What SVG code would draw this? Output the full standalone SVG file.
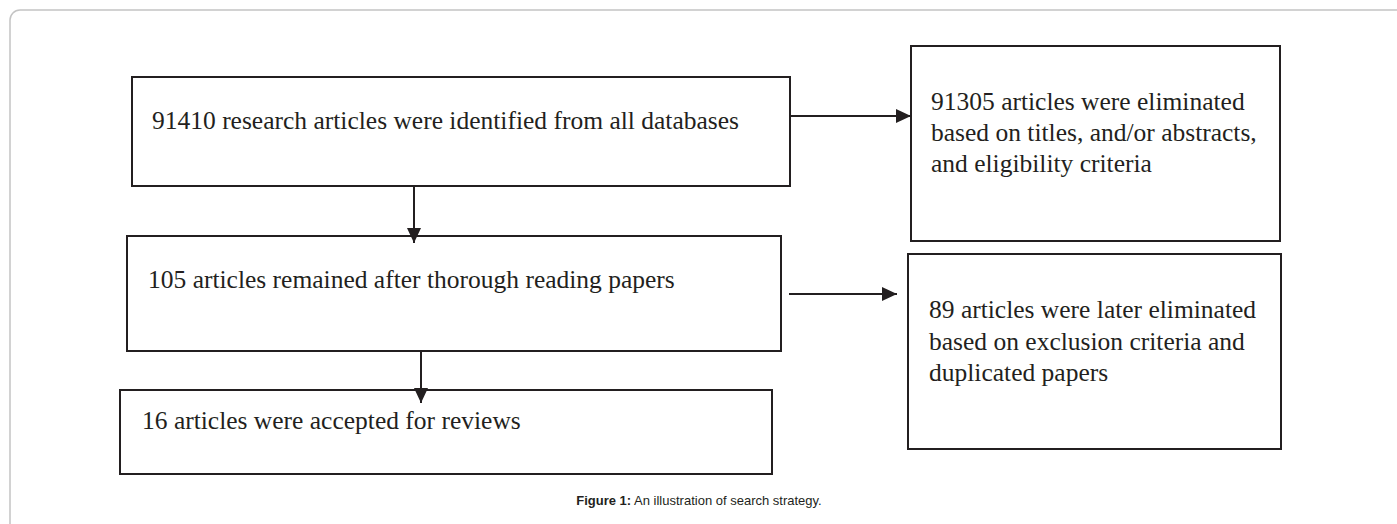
<svg xmlns="http://www.w3.org/2000/svg" width="1397" height="524" viewBox="0 0 1397 524">
<style>
.box{fill:#fff;stroke:#231f20;stroke-width:2}
.t{font-family:"Liberation Serif","Times New Roman",serif;font-size:25.5px;fill:#231f20}
.conn{stroke:#231f20;stroke-width:2;fill:none}
.cap{font-family:"Liberation Sans",Arial,sans-serif;font-size:13px;fill:#231f20}
</style>
<defs>
<marker id="ah" markerUnits="userSpaceOnUse" markerWidth="16" markerHeight="16" viewBox="0 0 16 16" refX="15" refY="8" orient="auto">
<path d="M0,1 L15,8 L0,15 Z" fill="#231f20"/>
</marker>
</defs>
<rect x="10" y="10" width="1410" height="540" rx="10" fill="#fff" stroke="#c4c4c4" stroke-width="1.5"/>
<g id="n1">
<rect class="box" x="132" y="77" width="658" height="109"/>
<text class="t" x="152" y="129">91410 research articles were identified from all databases</text>
</g>
<g id="n2">
<rect class="box" x="911" y="46" width="369" height="195"/>
<text class="t" x="931" y="110">91305 articles were eliminated</text>
<text class="t" x="931" y="141">based on titles, and/or abstracts,</text>
<text class="t" x="931" y="172">and eligibility criteria</text>
</g>
<g id="n3">
<rect class="box" x="127" y="236" width="654" height="115"/>
<text class="t" x="148" y="288">105 articles remained after thorough reading papers</text>
</g>
<g id="n4">
<rect class="box" x="908" y="254" width="373" height="195"/>
<text class="t" x="929" y="318">89 articles were later eliminated</text>
<text class="t" x="929" y="350">based on exclusion criteria and</text>
<text class="t" x="929" y="381">duplicated papers</text>
</g>
<g id="n5">
<rect class="box" x="120" y="390" width="652" height="84"/>
<text class="t" x="142" y="429">16 articles were accepted for reviews</text>
</g>
<g id="connectors">
<line class="conn" x1="790" y1="116" x2="911" y2="116" marker-end="url(#ah)"/>
<line class="conn" x1="414" y1="186" x2="414" y2="243" marker-end="url(#ah)"/>
<line class="conn" x1="789" y1="294" x2="897" y2="294" marker-end="url(#ah)"/>
<line class="conn" x1="421" y1="351" x2="421" y2="403" marker-end="url(#ah)"/>
</g>
<text class="cap" x="699" y="505" text-anchor="middle"><tspan font-weight="bold">Figure 1:</tspan> An illustration of search strategy.</text>
</svg>
